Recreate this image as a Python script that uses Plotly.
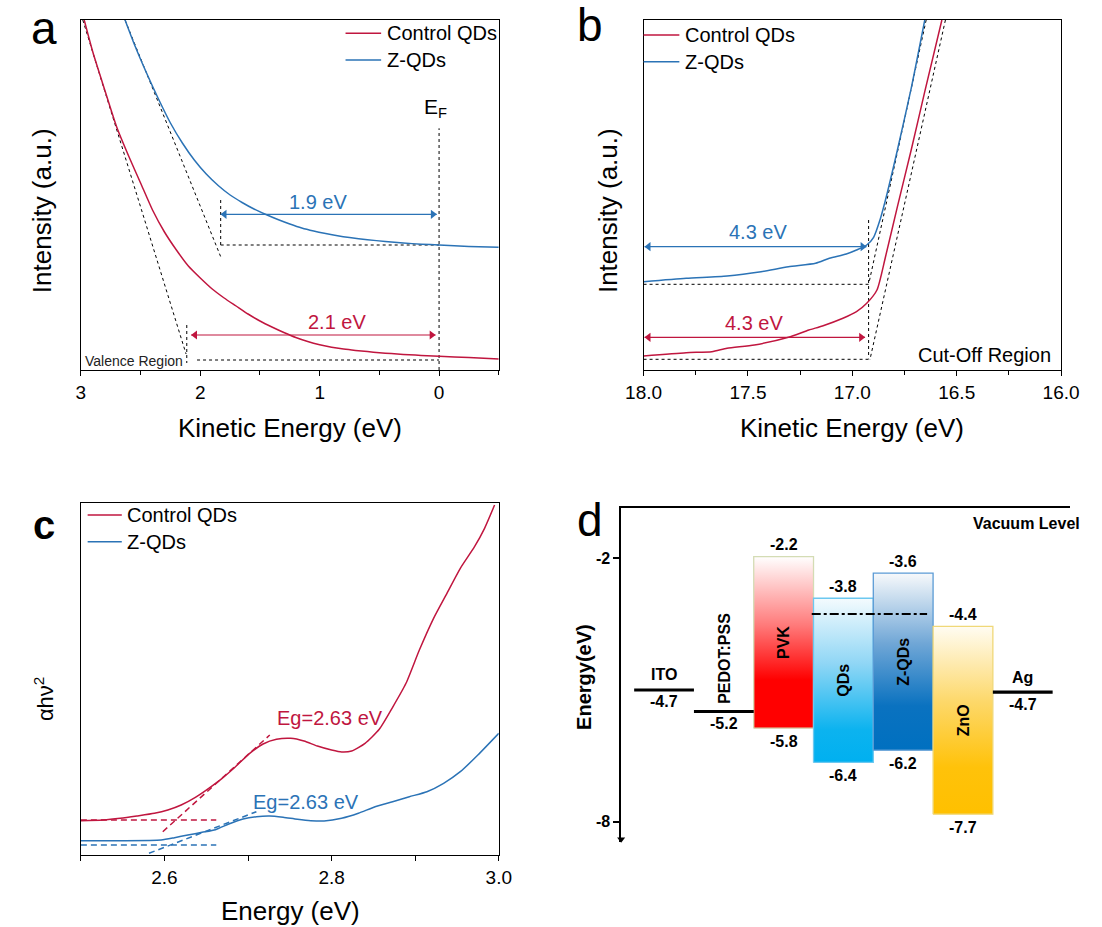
import plotly.graph_objects as go

W, H = 1102, 927
RED = '#C0163F'
BLUE = '#2B73B6'
FONT = 'Liberation Sans, Arial, sans-serif'

# ---------------- panel a : valence region ----------------
a_energy_blue = [2.63, 2.55, 2.45, 2.35, 2.25, 2.15, 2.05, 1.95, 1.85, 1.75, 1.65, 1.55, 1.45,
                 1.35, 1.25, 1.15, 1.05, 0.95, 0.85, 0.75, 0.60, 0.45, 0.30, 0.15, 0.00, -0.25, -0.50]
a_int_blue = [350, 325, 297, 271, 247, 227, 210, 196, 184.5, 175, 167.5, 161, 155.5,
              150.5, 146, 142, 139, 136.5, 134.3, 132.5, 130.3, 128.5, 127, 125.8, 125, 123.6, 122.7]
a_energy_red = [2.972, 2.90, 2.80, 2.70, 2.60, 2.50, 2.40, 2.30, 2.20, 2.10, 2.00, 1.90, 1.80,
                1.70, 1.60, 1.50, 1.40, 1.30, 1.20, 1.10, 1.00, 0.90, 0.80, 0.70, 0.60, 0.50,
                0.40, 0.30, 0.20, 0.10, 0.00, -0.25, -0.50]
a_int_red = [350, 318, 280, 243, 214, 187, 160, 138, 120, 104, 92, 81, 72,
             64, 56, 49, 43, 37.5, 32.5, 28.5, 25.3, 22.8, 21, 19.6, 18.4, 17.3,
             16.4, 15.6, 14.9, 14.3, 13.8, 12.4, 11]
a_tangent_blue_x = [2.630, 1.829]
a_tangent_blue_y = [350, 113.3]
a_tangent_red_x = [2.984, 2.119]
a_tangent_red_y = [350, 16]
a_onset_blue = 1.829
a_onset_red = 2.076
a_base_blue = 125
a_base_red = 10
a_arrow_blue_y = 155.7
a_arrow_red_y = 35
a_gap_labels = ['1.9 eV', '2.1 eV']

# ---------------- panel b : cut-off region ----------------
b_energy_blue = [18.000, 17.796, 17.600, 17.437, 17.306, 17.176, 17.110, 17.029, 16.980, 16.931,
                 16.898, 16.865, 16.833, 16.784, 16.718, 16.653]
b_int_blue = [88.3, 91.7, 94, 98.3, 103.3, 106.7, 111.7, 116, 120, 125,
              132.7, 151.7, 176.7, 220, 281.7, 350]
b_energy_red = [18.000, 17.796, 17.673, 17.600, 17.469, 17.306, 17.208, 17.143, 17.045, 16.980,
                16.931, 16.882, 16.841, 16.784, 16.718, 16.653, 16.571]
b_int_red = [14, 17.3, 18.3, 21.7, 25, 32.7, 40, 44, 51.7, 58.3,
             66.7, 80, 113.3, 163.3, 220, 278.3, 350]
b_tangent_blue_x = [16.640, 16.919]
b_tangent_blue_y = [356, 88.3]
b_tangent_red_x = [16.554, 16.916]
b_tangent_red_y = [350, 10]
b_cutoff = 16.922
b_base_blue = 85.7
b_base_red = 10.7
b_arrow_blue_y = 123.3
b_arrow_red_y = 32.7
b_labels = ['4.3 eV', '4.3 eV']

# ---------------- panel c : Tauc plot ----------------
c_energy_red = [2.500, 2.526, 2.547, 2.567, 2.588, 2.604, 2.620, 2.637, 2.653, 2.669, 2.685,
                2.702, 2.718, 2.734, 2.751, 2.767, 2.783, 2.800, 2.812, 2.824, 2.840,
                2.857, 2.873, 2.889, 2.905, 2.922, 2.938, 2.954, 2.971, 2.983, 2.995]
c_ahv_red = [34.3, 35, 36.7, 39, 41.7, 45, 50, 57.7, 66.7, 76.7, 88.3,
             101.7, 111, 115.7, 116.7, 114, 109, 105, 103, 104, 111.7,
             125.7, 147.7, 171.7, 205, 236.7, 261.7, 286.7, 308.3, 326.7, 350]
c_energy_blue = [2.500, 2.547, 2.596, 2.612, 2.628, 2.645, 2.661, 2.677, 2.694, 2.710, 2.726,
                 2.742, 2.759, 2.775, 2.791, 2.812, 2.832, 2.852, 2.873, 2.893, 2.914,
                 2.934, 2.954, 2.975, 3.000]
c_ahv_blue = [14.3, 14.3, 15, 17.3, 20, 22.7, 25.3, 31, 36, 38.3, 39,
              37.7, 35.7, 34.3, 34, 36.7, 41.7, 48.3, 53.3, 58.3, 63.3,
              71.7, 83.3, 100, 121.7]
c_tangent_red_x = [2.598, 2.726]
c_tangent_red_y = [23.3, 120]
c_tangent_blue_x = [2.5815, 2.710]
c_tangent_blue_y = [1.7, 43.3]
c_base_red = 35
c_base_blue = 10
c_base_end = 2.662
c_eg_label = 'Eg=2.63 eV'

# ---------------- panel d : energy levels ----------------
layer_names = ['ITO', 'PEDOT:PSS', 'PVK', 'QDs', 'Z-QDs', 'ZnO', 'Ag']
bar_layers = ['PVK', 'QDs', 'Z-QDs', 'ZnO']
bar_top_level = [-1.96, -2.91, -2.34, -3.55]      # as drawn on the energy axis
bar_bottom_level = [-5.87, -6.65, -6.37, -7.83]
bar_top_text = ['-2.2', '-3.8', '-3.6', '-4.4']
bar_bottom_text = ['-5.8', '-6.4', '-6.2', '-7.7']
electrode_layers = ['ITO', 'PEDOT:PSS', 'Ag']
electrode_level = [-5.00, -5.49, -5.05]
electrode_text = ['-4.7', '-5.2', '-4.7']
dashdot_level = -3.27
d_ticks = [-2, -8]

# ---------------- styles ----------------
bar_styles = {
    'PVK': dict(border='#d4dcb4', scale=[[0, '#ff0000'], [0.28, '#ff0000'], [0.6, '#ff7a7a'], [1, '#ffffff']]),
    'QDs': dict(border='#6cc8f0', scale=[[0, '#00b0f0'], [0.2, '#0cb3ef'], [0.6, '#8fd6f5'], [1, '#f4fbfe']]),
    'Z-QDs': dict(border='#5b9bd5', scale=[[0, '#0070c0'], [0.25, '#0a72c0'], [0.6, '#6fa6d6'], [1, '#f7f9fb']]),
    'ZnO': dict(border='#f0d878', scale=[[0, '#ffc000'], [0.25, '#ffc20a'], [0.6, '#fdd86a'], [1, '#fffcf2']]),
}


def dom_x(p0, p1):
    return [p0 / W, p1 / W]


def dom_y(top, bot):
    return [1 - bot / H, 1 - top / H]


fig = go.Figure()


def line(x, y, ax, color, width=1.5, dash=None, shape='linear'):
    fig.add_trace(go.Scatter(x=x, y=y, mode='lines', xaxis='x' + ax, yaxis='y' + ax,
                             line=dict(color=color, width=width, dash=dash, shape=shape,
                                       smoothing=0.6 if shape == 'spline' else None),
                             hoverinfo='skip', showlegend=False))


def darrow(x_left, x_right, y, ax, color, inset):
    # x_left is the end shown on the left of a reversed axis (larger value)
    line([x_left, x_right], [y, y], ax, color, 1.2)
    fig.add_trace(go.Scatter(x=[x_left - inset, x_right + inset], y=[y, y], mode='markers',
                             xaxis='x' + ax, yaxis='y' + ax,
                             marker=dict(symbol=['triangle-left', 'triangle-right'], size=8, color=color,
                                         line=dict(width=0)),
                             hoverinfo='skip', showlegend=False))


DASH = '3px,3px'
# ---- a ----
line(a_tangent_blue_x, a_tangent_blue_y, '', 'black', 1, DASH)
line(a_tangent_red_x, a_tangent_red_y, '', 'black', 1, DASH)
line([a_onset_blue, a_onset_blue], [170, a_base_blue - 3], '', 'black', 1, DASH)
line([2.113, 2.113], [45, a_base_red - 3], '', 'black', 1, DASH)
line([a_onset_blue, 0], [a_base_blue, a_base_blue], '', 'black', 1, DASH)
line([2.027, 0], [a_base_red, a_base_red], '', 'black', 1, DASH)
line([0, 0], [0, 241.7], '', 'black', 1, DASH)
line(a_energy_red, a_int_red, '', RED, 1.5, None, 'spline')
line(a_energy_blue, a_int_blue, '', BLUE, 1.5, None, 'spline')
darrow(a_onset_blue, 0.02, a_arrow_blue_y, '', BLUE, 0.032)
darrow(a_onset_red, 0.03, a_arrow_red_y, '', RED, 0.032)
# ---- b ----
line(b_tangent_blue_x, b_tangent_blue_y, '2', 'black', 1, DASH)
line(b_tangent_red_x, b_tangent_red_y, '2', 'black', 1, DASH)
line([b_cutoff, b_cutoff], [150, 11.7], '2', 'black', 1, DASH)
line([18, b_cutoff], [b_base_blue, b_base_blue], '2', 'black', 1, DASH)
line([18, b_cutoff], [b_base_red, b_base_red], '2', 'black', 1, DASH)
line(b_energy_red, b_int_red, '2', RED, 1.5, None, 'spline')
line(b_energy_blue, b_int_blue, '2', BLUE, 1.5, None, 'spline')
darrow(17.995, 16.932, b_arrow_blue_y, '2', BLUE, 0.0185)
darrow(17.995, 16.939, b_arrow_red_y, '2', RED, 0.0185)
# ---- c ----
line([2.5, c_base_end], [c_base_red, c_base_red], '3', RED, 1.5, '6px,4px')
line([2.5, c_base_end], [c_base_blue, c_base_blue], '3', BLUE, 1.5, '6px,4px')
line(c_tangent_red_x, c_tangent_red_y, '3', RED, 1.5, '6px,4px')
line(c_tangent_blue_x, c_tangent_blue_y, '3', BLUE, 1.5, '6px,4px')
line(c_energy_red, c_ahv_red, '3', RED, 1.5, None, 'spline')
line(c_energy_blue, c_ahv_blue, '3', BLUE, 1.5, None, 'spline')

# ---- d ----
for name, top, bot in zip(bar_layers, bar_top_level, bar_bottom_level):
    i = layer_names.index(name)
    st = bar_styles[name]
    fig.add_trace(go.Scatter(x=[i, i + 1, i + 1, i, i], y=[bot, bot, top, top, bot], mode='lines',
                             fill='toself', xaxis='x4', yaxis='y4',
                             fillgradient=dict(type='vertical', colorscale=st['scale'], start=bot, stop=top),
                             line=dict(color=st['border'], width=1.3), hoverinfo='skip', showlegend=False))
for name, lev in zip(electrode_layers, electrode_level):
    i = layer_names.index(name)
    line([i, i + 1], [lev, lev], '4', 'black', 3.2)
line([2.97, 4.9], [dashdot_level, dashdot_level], '4', 'black', 2, 'dashdot')
# arrow tip at the bottom of the energy axis
fig.add_trace(go.Scatter(x=[-0.218], y=[-8.40], mode='markers', xaxis='x4', yaxis='y4',
                         marker=dict(symbol='triangle-down', size=7, color='black'),
                         hoverinfo='skip', showlegend=False, cliponaxis=False))

ann = []


def ptext(txt, px, py, size, color='black', xanchor='center', yanchor='middle', angle=0):
    ann.append(dict(text=txt, x=px / W, y=1 - py / H, xref='paper', yref='paper', showarrow=False,
                    font=dict(size=size, color=color, family=FONT), xanchor=xanchor, yanchor=yanchor,
                    textangle=angle))


def dtext(txt, x, y, ax, size, color='black', xanchor='center', yanchor='middle', angle=0, yshift=0):
    ann.append(dict(text=txt, x=x, y=y, xref='x' + ax, yref='y' + ax, showarrow=False,
                    font=dict(size=size, color=color, family=FONT), xanchor=xanchor, yanchor=yanchor,
                    textangle=angle, yshift=yshift))


# a annotations
dtext(a_gap_labels[0], 1.010, 168.3, '', 20, BLUE)
dtext(a_gap_labels[1], 0.853, 48.3, '', 20, RED)
dtext('E<sub>F</sub>', 0.03, 262, '', 21, 'black')
dtext('Valence Region', 2.985, 9.5, '', 14, '#222', xanchor='left')
# b annotations
dtext(b_labels[0], 17.453, 138.3, '2', 20, BLUE)
dtext(b_labels[1], 17.469, 47.3, '2', 20, RED)
dtext('Cut-Off Region', 16.041, 15, '2', 20, 'black', xanchor='right')
# c annotations
dtext(c_eg_label, 2.7975, 136.7, '3', 20, RED)
dtext(c_eg_label, 2.769, 53.3, '3', 20, BLUE)

# panel letters
ptext('a', 27, 28, 46)
ptext('b', 591, 25, 46)
ptext('<b>c</b>', 27, 525, 40)
ptext('d', 591, 520, 46)

# axis titles
ptext('Intensity (a.u.)', 25, 211, 26, angle=-90)
ptext('Intensity (a.u.)', 610, 211, 26, angle=-90)
ptext('Kinetic Energy (eV)', 281, 428, 26)
ptext('Kinetic Energy (eV)', 862, 428, 26)
ptext('Energy (eV)', 281.5, 911, 26)
ptext('αhν<sup>2</sup>', 27, 699, 22, angle=-90)
ptext('<b>Energy(eV)</b>', 585, 677, 20, angle=-90)
ptext('<b>Vacuum Level</b>', 1100, 523, 16, xanchor='right')

# manual legends
shapes = []


def legend(x0, x1, ys, labels, colors):
    for y, lab, col in zip(ys, labels, colors):
        shapes.append(dict(type='line', xref='paper', yref='paper', x0=x0 / W, x1=x1 / W,
                           y0=1 - y / H, y1=1 - y / H, line=dict(color=col, width=1.5)))
        ptext(lab, x1 + 3.5, y, 20, xanchor='left')


series_names = ['Control QDs', 'Z-QDs']
legend(338.6, 375.4, [33.3, 60], series_names, [RED, BLUE])
legend(646.7, 683.7, [35, 61.7], series_names, [RED, BLUE])
legend(72, 107.3, [515, 541.7], series_names, [RED, BLUE])

# d labels
for name, top, bot, tt, bt in zip(bar_layers, bar_top_level, bar_bottom_level, bar_top_text, bar_bottom_text):
    i = layer_names.index(name)
    dtext('<b>%s</b>' % tt, i + 0.5, top, '4', 16, yshift=12)
    dtext('<b>%s</b>' % bt, i + 0.5, bot, '4', 16, yshift=-13)
    dtext('<b>%s</b>' % name, i + 0.5, (top + bot) / 2, '4', 16, angle=-90)
for name, lev, t in zip(electrode_layers, electrode_level, electrode_text):
    i = layer_names.index(name)
    dtext('<b>%s</b>' % t, i + 0.5, lev, '4', 16, yshift=-12)
    if name == 'PEDOT:PSS':
        dtext('<b>%s</b>' % name, i + 0.5, lev, '4', 16, yanchor='bottom', angle=-90, yshift=6)
    else:
        dtext('<b>%s</b>' % name, i + 0.5, lev, '4', 16, yshift=15)

frame = dict(showline=True, linecolor='black', linewidth=1.3, mirror=True, showgrid=False, zeroline=False)
xt = dict(ticks='outside', ticklen=5, tickwidth=1.3, tickcolor='black',
          tickfont=dict(size=19, family=FONT, color='black'))
yno = dict(ticks='', showticklabels=False)

fig.update_layout(
    width=W, height=H, margin=dict(l=0, r=0, t=0, b=0),
    paper_bgcolor='white', plot_bgcolor='white', showlegend=False,
    font=dict(family=FONT, color='black'),
    xaxis=dict(domain=dom_x(65, 497), range=[3, -0.5], anchor='y', dtick=1, tick0=0,
               minor=dict(dtick=0.5, ticks='outside', ticklen=4, tickcolor='black', tickwidth=1.3),
               **frame, **xt),
    yaxis=dict(domain=dom_y(20, 370), range=[0, 350], anchor='x', **frame, **yno),
    xaxis2=dict(domain=dom_x(646.7, 1078.3), range=[18, 16], anchor='y2', dtick=0.5, tickformat='.1f',
                minor=dict(dtick=0.25, ticks='outside', ticklen=4, tickcolor='black', tickwidth=1.3),
                **frame, **xt),
    yaxis2=dict(domain=dom_y(20, 370), range=[0, 350], anchor='x2', **frame, **yno),
    xaxis3=dict(domain=dom_x(65, 497), range=[2.5, 3.0], anchor='y3', dtick=0.2, tick0=0, tickformat='.1f',
                minor=dict(dtick=0.1, ticks='outside', ticklen=5, tickcolor='black', tickwidth=1.3),
                **frame, **xt),
    yaxis3=dict(domain=dom_y(503.3, 855), range=[0, 351.7], anchor='x3', **frame, **yno),
    xaxis4=dict(domain=dom_x(623.5, 1088), range=[-0.218, 7.298], anchor='y4', side='top',
                showline=True, linecolor='black', linewidth=1.5, showgrid=False, zeroline=False,
                ticks='', showticklabels=False),
    yaxis4=dict(domain=dom_y(508.3, 841.7), range=[-8.456, -0.861], anchor='x4',
                showline=True, linecolor='black', linewidth=1.5, showgrid=False, zeroline=False,
                ticks='outside', ticklen=6, tickwidth=1.5, tickcolor='black',
                tickvals=d_ticks, ticktext=['<b>%d</b>' % v for v in d_ticks],
                tickfont=dict(size=16, family=FONT, color='black', weight='bold')),
    annotations=ann, shapes=shapes,
)

fig.write_html('out.html')
